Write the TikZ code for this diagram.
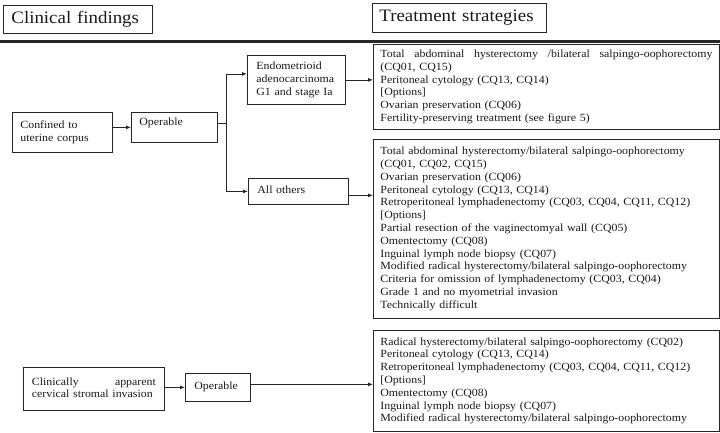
\documentclass[tikz,border=0pt]{standalone}
\usepackage{fontspec}
\setmainfont{Liberation Serif}[FakeStretch=1.08]
\usetikzlibrary{arrows.meta}
\newcommand\mybodyfont{\rmfamily\fontsize{11}{12.8}\selectfont}
\newcommand\myheadfont{\rmfamily\fontsize{17.5}{20}\selectfont}
\begin{document}
\begin{tikzpicture}[x=1pt,y=-1pt,
  every node/.style={text=black!90},
  box/.style={draw=black!85, line width=0.8pt, inner xsep=7pt, inner ysep=0pt,
    align=left, font=\mybodyfont, anchor=north west,
    execute at begin node=\strut, execute at end node=\strut},
  headbox/.style={draw=black!85, line width=0.8pt, inner xsep=8pt, inner ysep=0pt,
    align=left, font=\myheadfont, anchor=north west},
  arr/.style={draw=black!85, line width=0.8pt, -{Latex[length=5pt,width=4pt]}},
  ln/.style={draw=black!85, line width=0.8pt}]
\useasboundingbox (0,0) rectangle (720,432);

% headers
\node[headbox, text width=133pt, minimum height=28pt] (hcf) at (3,5) {Clinical findings};
\node[headbox, inner xsep=7pt, text width=160pt, minimum height=29pt] (hts) at (372,3) {Treatment strategies};
\coordinate (ruleL) at (0,41.5);
\coordinate (ruleR) at (720,41.5);
\draw[line width=3pt, black!85] (ruleL) -- (ruleR);

% left column
\node[box, inner xsep=8pt, text width=84pt, minimum height=40pt] (conf) at (12,112)
  {Confined to\\uterine corpus};
\node[box, inner xsep=8pt, text width=70pt, minimum height=30pt,
  execute at begin node={}, execute at end node={}, text height=8pt, text depth=12pt] (op1) at (131,112)
  {Operable};
\node[box, inner xsep=9pt, text width=80pt, minimum height=49pt] (endo) at (247,55)
  {Endometrioid\\adenocarcinoma\\G1 and stage Ia};
\node[box, inner xsep=9pt, text width=82pt, minimum height=26pt] (oth) at (248,178)
  {All others};
\node[box, inner xsep=8.5pt, text width=124pt, minimum height=43pt] (cl) at (23,367)
  {Clinically\hfill apparent\\cervical stromal invasion};
\node[box, inner xsep=9pt, text width=47pt, minimum height=28pt] (op2) at (185,373)
  {Operable};

% right column
\node[box, text width=332pt, minimum height=85pt] (b1) at (373,44)
  {Total\hfill abdominal\hfill hysterectomy\hfill /bilateral\hfill salpingo-oophorectomy\\
   (CQ01, CQ15)\\
   Peritoneal cytology (CQ13, CQ14)\\{}
   [Options]\\
   Ovarian preservation (CQ06)\\
   Fertility-preserving treatment (see figure 5)};
\node[box, text width=332pt, minimum height=179pt] (b2) at (373,139)
  {Total abdominal hysterectomy/bilateral salpingo-oophorectomy\\
   (CQ01, CQ02, CQ15)\\
   Ovarian preservation (CQ06)\\
   Peritoneal cytology (CQ13, CQ14)\\
   Retroperitoneal lymphadenectomy (CQ03, CQ04, CQ11, CQ12)\\{}
   [Options]\\
   Partial resection of the vaginectomyal wall (CQ05)\\
   Omentectomy (CQ08)\\
   Inguinal lymph node biopsy (CQ07)\\
   Modified radical hysterectomy/bilateral salpingo-oophorectomy\\
   Criteria for omission of lymphadenectomy (CQ03, CQ04)\\
   Grade 1 and no myometrial invasion\\
   Technically difficult};
\node[box, text width=332pt, minimum height=101pt] (b3) at (373,330)
  {Radical hysterectomy/bilateral salpingo-oophorectomy (CQ02)\\
   Peritoneal cytology (CQ13, CQ14)\\
   Retroperitoneal lymphadenectomy (CQ03, CQ04, CQ11, CQ12)\\{}
   [Options]\\
   Omentectomy (CQ08)\\
   Inguinal lymph node biopsy (CQ07)\\
   Modified radical hysterectomy/bilateral salpingo-oophorectomy};

% connectors
\draw[arr] (conf.east |- op1.west) -- (op1.west);
\coordinate (sp) at (226,0);
\coordinate (ein) at ([yshift=6pt]endo.west);
\draw[ln] ([yshift=4pt]op1.east) -- ([yshift=4pt]op1.east -| sp);
\draw[ln] (ein -| sp) -- (oth.west -| sp);
\draw[arr] (ein -| sp) -- (ein);
\draw[arr] (oth.west -| sp) -- (oth.west);
\draw[arr] (endo.east) -- (endo.east -| b1.west);
\draw[arr] ([yshift=-4pt]oth.east) -- ([yshift=-4pt]oth.east -| b2.west);
\draw[arr] (cl.east |- op2.west) -- (op2.west);
\draw[arr] ([yshift=3pt]op2.east) -- ([yshift=3pt]op2.east -| b3.west);
\end{tikzpicture}
\end{document}
